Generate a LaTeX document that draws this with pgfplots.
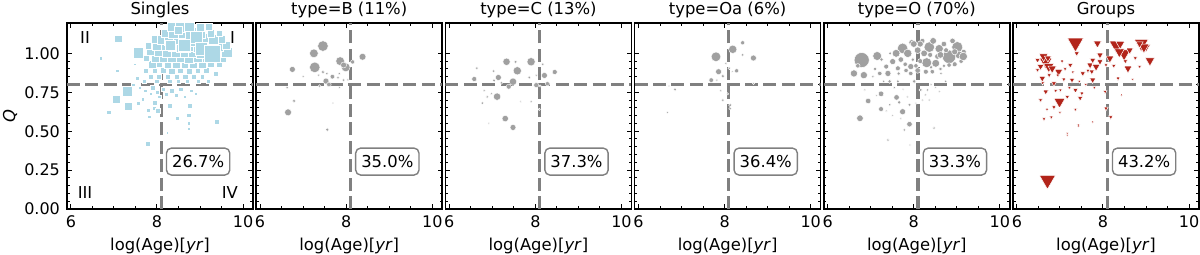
\documentclass[border=0pt]{standalone}
\usepackage{pgfplots}
\pgfplotsset{compat=1.18}
\usepackage{fontspec}
\setmainfont{DejaVu Sans}
\definecolor{sgl}{HTML}{ADD8E6}
\definecolor{dashgray}{HTML}{808080}
\definecolor{cgray}{HTML}{A0A0A0}
\definecolor{tred}{RGB}{178,36,26}
\newcommand{\fs}{\fontsize{8.2}{10}\selectfont}
\newcommand{\fst}{\fontsize{8.0}{10}\selectfont}
\tikzset{pct/.style={draw=dashgray, fill=white, rounded corners=2.5pt, line width=0.7pt, font=\fs, inner xsep=2.8pt, inner ysep=0pt, minimum height=13.5pt}}
\pgfplotsset{
  panel/.style={
    scale only axis, width=93pt, height=93pt, anchor=south west,
    xmin=5.91, xmax=10.23, ymin=0, ymax=1.195,
    xtick={6,8,10}, minor x tick num=3,
    ytick={0,0.25,0.5,0.75,1}, minor y tick num=4,
    tick align=inside, xtick pos=both, ytick pos=both,
    xticklabel pos=lower, yticklabel pos=left,
    major tick length=2.3pt, minor tick length=1.3pt,
    tick style={black, line width=0.5pt},
    axis line style={line width=0.8pt},
    tick label style={font=\fst},
    /pgf/number format/assume math mode=true,
    xticklabel style={/pgf/number format/.cd, fixed, precision=0},
    yticklabel style={/pgf/number format/.cd, fixed, fixed zerofill, precision=2},
    every axis title/.style={at={(axis description cs:0.5,1)}, anchor=base, yshift=4.5pt, font=\fs},
    every axis x label/.style={at={(axis description cs:0.5,0)}, anchor=base, yshift=-20.5pt, font=\fs},
    every axis y label/.style={at={(axis description cs:0,0.5)}, xshift=-28.5pt, rotate=90, anchor=center, font=\fs},
    xlabel={log(Age)[\textit{yr}]},
  },
  qline/.style={dashgray, line width=1.6pt, dash pattern=on 6.5pt off 2.7pt, forget plot},
  sized/.style={scatter, only marks, visualization depends on={#1*\thisrow{s}\as\ms},
    scatter/@pre marker code/.append style={/tikz/mark size=\ms}},
  sized/.default=1,
}
\begin{document}
\begin{tikzpicture}
\useasboundingbox (0,0) rectangle (600pt,127pt);
% ---------- Singles ----------
\begin{axis}[panel, at={(33.5pt,22.5pt)}, title={Singles}, ylabel={\textit{Q}}]
\addplot[scatter/use mapped color={draw=white, fill=sgl}, sized=1.4, mark=square*, mark options={line width=0.25pt}] table {
x y s
6.69 0.968 0.6
7.07 0.888 0.7
7.48 0.93 0.5
7.30 0.754 1.8
7.06 0.706 1.5
7.33 0.662 1.5
6.88 0.621 0.8
7.57 0.68 0.7
7.67 0.706 0.7
7.79 0.636 0.7
7.95 0.68 0.9
7.82 0.594 0.6
7.94 0.647 0.6
8.02 0.632 0.9
8.30 0.662 0.9
8.47 0.582 0.8
8.76 0.662 0.8
8.74 0.604 0.8
8.74 0.55 0.6
8.74 0.518 0.5
9.39 0.56 0.8
7.79 0.418 0.8
8.24 0.49 0.4
7.60 0.78 0.6
7.72 0.76 0.7
7.85 0.74 0.6
7.90 0.78 0.9
8.00 0.75 0.7
8.05 0.72 0.6
8.15 0.77 0.8
8.22 0.74 0.7
8.35 0.76 0.9
8.45 0.73 0.7
8.55 0.77 0.8
8.65 0.72 0.6
8.80 0.76 0.7
8.90 0.74 0.6
7.45 0.80 0.6
7.55 0.84 0.7
7.70 0.82 0.7
8.00 0.82 0.8
8.30 0.82 0.8
8.50 0.82 0.7
8.70 0.82 0.7
8.95 0.82 0.7
9.20 0.82 0.7
7.85 0.85 0.8
8.05 0.85 0.9
8.25 0.85 1.0
8.45 0.85 0.9
8.65 0.85 1.0
8.85 0.85 0.8
9.05 0.85 0.8
7.75 0.89 0.9
7.95 0.89 1.0
8.15 0.89 1.1
8.35 0.89 1.2
8.55 0.89 1.1
8.75 0.89 1.2
8.95 0.89 1.0
9.15 0.89 1.0
9.37 0.87 0.9
7.90 0.93 1.5
8.05 0.93 1.2
8.25 0.93 1.3
8.45 0.93 1.4
8.65 0.93 1.3
8.85 0.93 1.4
9.05 0.93 1.3
9.25 0.93 1.2
9.45 0.93 1.1
7.75 0.97 1.0
7.95 0.97 1.4
8.15 0.97 1.4
8.35 0.97 1.6
8.55 0.97 1.6
8.75 0.97 1.8
8.95 0.97 1.6
9.15 0.97 1.6
9.50 0.97 1.6
7.85 1.01 1.4
8.05 1.01 1.6
8.25 1.01 1.8
8.45 1.01 2.0
8.65 1.01 1.8
8.85 1.01 2.0
9.05 1.01 2.2
9.45 1.01 2.0
9.62 1.01 1.8
7.80 1.05 1.2
8.00 1.05 1.8
8.20 1.05 1.6
8.40 1.05 2.2
8.60 1.05 2.5
8.80 1.05 2.2
9.00 1.05 2.5
9.20 1.05 2.0
9.40 1.05 2.0
9.60 1.05 1.4
7.95 1.09 1.3
8.10 1.09 1.6
8.30 1.09 2.0
8.50 1.09 1.8
8.70 1.09 2.0
8.90 1.09 2.5
9.10 1.09 2.0
9.30 1.09 1.8
9.50 1.09 1.3
8.20 1.13 1.5
8.40 1.13 2.0
8.60 1.13 1.8
8.80 1.13 2.2
9.00 1.13 2.0
9.25 1.13 1.4
9.45 1.13 1.0
8.35 1.17 1.6
8.55 1.17 1.8
8.75 1.17 1.7
9.00 1.17 1.4
9.20 1.17 1.2
7.10 1.096 1.3
7.57 1.004 1.8
8.30 1.05 1.8
8.49 1.148 1.5
8.64 1.05 2.2
8.91 1.105 2.2
9.03 1.03 2.2
9.29 0.997 2.9
};
\addplot[qline] coordinates {(8.1,0) (8.1,1.195)};
\addplot[qline] coordinates {(5.91,0.8) (10.23,0.8)};
\node[font=\fs] at (rel axis cs:0.097,0.92) {II};
\node[font=\fs] at (rel axis cs:0.89,0.92) {I};
\node[font=\fs] at (rel axis cs:0.097,0.086) {III};
\node[font=\fs] at (rel axis cs:0.876,0.086) {IV};
\node[pct] at (rel axis cs:0.705,0.255) {26.7\%};
\end{axis}
% ---------- type=B ----------
\begin{axis}[panel, at={(128.1pt,22.5pt)}, title={type=B (11\%)}, yticklabels={}]
\addplot[scatter/use mapped color={draw=white, fill=cgray}, sized=1.15, mark=*, mark options={line width=0.2pt}] table {
x y s
7.46 1.047 2.3
7.25 1.0 1.9
7.27 0.91 2.3
6.75 0.897 1.3
7.86 0.95 1.9
7.99 0.91 1.9
7.94 0.925 1.3
8.38 0.978 1.5
8.15 0.945 0.9
7.46 0.88 0.7
7.55 0.87 0.6
7.68 0.85 1.0
7.53 0.822 1.3
7.60 0.80 1.0
7.81 0.843 0.6
7.94 0.828 0.6
7.84 0.87 0.6
7.00 0.85 0.5
7.36 0.86 0.5
7.38 0.79 0.6
6.63 0.78 0.6
6.79 0.694 0.7
6.65 0.621 1.5
7.69 0.68 0.4
7.56 0.51 0.8
7.84 0.78 0.5
8.04 0.83 0.5
};
\addplot[qline] coordinates {(8.1,0) (8.1,1.195)};
\addplot[qline] coordinates {(5.91,0.8) (10.23,0.8)};
\node[pct] at (rel axis cs:0.705,0.255) {35.0\%};
\end{axis}
% ---------- type=C ----------
\begin{axis}[panel, at={(222.7pt,22.5pt)}, title={type=C (13\%)}, yticklabels={}]
\addplot[scatter/use mapped color={draw=white, fill=cgray}, sized=1.15, mark=*, mark options={line width=0.2pt}] table {
x y s
7.33 0.946 1.6
7.90 0.946 1.8
7.54 0.946 0.7
7.58 0.888 1.8
8.17 0.93 0.6
8.21 0.858 1.3
8.45 0.88 1.1
6.64 0.905 0.6
6.58 0.835 1.1
7.03 0.886 0.6
7.14 0.845 1.3
7.04 0.826 0.7
7.48 0.818 1.6
7.38 0.786 1.1
7.21 0.81 0.6
7.86 0.845 0.7
8.02 0.86 0.5
8.02 0.796 1.1
8.28 0.805 0.9
8.11 0.79 0.5
7.11 0.722 1.6
6.98 0.74 0.5
6.88 0.72 0.6
6.81 0.76 0.5
6.77 0.68 0.6
7.90 0.69 0.5
7.66 0.69 0.4
7.30 0.581 1.4
7.48 0.524 1.3
6.92 0.55 0.4
8.09 0.64 0.5
};
\addplot[qline] coordinates {(8.1,0) (8.1,1.195)};
\addplot[qline] coordinates {(5.91,0.8) (10.23,0.8)};
\node[pct] at (rel axis cs:0.705,0.255) {37.3\%};
\end{axis}
% ---------- type=Oa ----------
\begin{axis}[panel, at={(317.3pt,22.5pt)}, title={type=Oa (6\%)}, yticklabels={}]
\addplot[scatter/use mapped color={draw=white, fill=cgray}, sized=1.15, mark=*, mark options={line width=0.2pt}] table {
x y s
7.80 0.978 2.1
8.19 1.026 1.8
8.42 1.068 0.9
8.42 0.99 0.6
8.67 0.97 1.3
7.86 0.882 1.3
7.69 0.828 1.0
7.96 0.854 0.7
7.82 0.828 0.5
8.11 0.904 0.6
8.28 0.888 0.9
8.18 0.882 0.4
6.85 0.768 0.7
6.71 0.79 0.4
7.91 0.76 0.5
7.96 0.70 0.6
8.07 0.74 0.5
8.13 0.667 0.7
8.13 0.645 0.6
6.67 0.621 0.5
8.67 0.807 0.5
8.03 0.935 0.5
};
\addplot[qline] coordinates {(8.1,0) (8.1,1.195)};
\addplot[qline] coordinates {(5.91,0.8) (10.23,0.8)};
\node[pct] at (rel axis cs:0.705,0.255) {36.4\%};
\end{axis}
% ---------- type=O ----------
\begin{axis}[panel, at={(411.9pt,22.5pt)}, title={type=O (70\%)}, yticklabels={}]
\addplot[scatter/use mapped color={draw=white, fill=cgray}, sized=1.4, mark=*, mark options={line width=0.25pt}] table {
x y s
6.79 0.957 2.7
7.15 0.983 1.6
6.61 0.871 1.3
6.84 0.86 1.3
7.74 1.032 1.9
7.86 1.0 1.5
8.09 1.02 1.2
8.36 1.04 1.9
8.59 1.03 1.5
9.01 1.04 2.0
8.82 0.978 2.4
8.30 0.94 1.8
8.51 0.936 1.4
8.24 1.0 1.2
8.09 0.89 1.0
7.59 1.0 1.4
7.51 0.947 1.1
7.36 0.915 0.9
7.21 0.871 0.8
7.40 0.871 1.1
7.63 0.904 0.9
7.82 0.89 0.8
7.93 0.915 1.1
7.93 0.871 0.8
8.28 0.882 0.9
8.43 0.882 0.8
8.82 0.925 0.8
7.44 0.82 0.7
7.63 0.82 0.6
8.01 0.82 0.7
8.16 0.765 0.6
8.32 0.765 0.5
7.24 0.74 1.0
6.94 0.694 1.0
7.60 0.717 1.0
7.66 0.685 0.7
7.24 0.642 0.9
7.74 0.625 1.1
7.90 0.67 0.6
7.90 0.545 1.0
6.75 0.583 1.2
7.44 0.67 0.5
7.36 0.63 0.4
7.70 0.583 0.4
7.78 0.508 0.5
8.47 0.52 0.5
7.40 0.443 0.5
7.91 0.411 0.4
6.86 0.765 0.4
7.13 0.73 0.4
8.27 0.733 0.4
8.59 0.755 0.4
8.74 0.82 0.5
8.63 0.871 0.5
8.36 0.70 0.4
9.16 1.01 0.9
7.95 1.07 1.0
8.45 1.08 1.2
8.70 1.06 1.0
8.95 0.93 0.9
9.10 0.95 0.8
8.55 0.98 1.0
8.15 0.95 0.9
7.98 0.96 0.7
8.70 0.92 0.7
9.05 0.99 1.4
7.05 0.85 0.5
7.30 0.82 0.5
7.55 0.78 0.5
7.75 0.77 0.4
8.40 0.80 0.4
8.50 0.78 0.4
8.20 0.70 0.4
7.85 0.72 0.4
8.05 0.68 0.4
7.50 0.60 0.4
7.70 0.96 1.0
8.00 1.06 1.2
8.20 1.08 0.9
8.62 0.99 1.2
8.90 1.08 1.0
9.15 0.98 1.5
7.25 0.96 0.7
7.45 1.00 0.6
8.15 1.06 1.1
8.38 0.99 0.9
8.75 1.02 0.9
8.95 1.01 1.1
7.65 0.87 0.7
7.80 0.93 0.8
8.05 0.92 0.8
8.40 0.91 0.7
8.62 0.90 0.7
7.10 0.90 0.7
6.70 0.92 0.8
};
\addplot[qline] coordinates {(8.1,0) (8.1,1.195)};
\addplot[qline] coordinates {(5.91,0.8) (10.23,0.8)};
\node[pct] at (rel axis cs:0.705,0.255) {33.3\%};
\end{axis}
% ---------- Groups ----------
\begin{axis}[panel, at={(506.5pt,22.5pt)}, title={Groups}, yticklabels={}]
\addplot[scatter/use mapped color={draw=white, fill=tred}, sized=1.35, mark=triangle*, mark options={line width=0.25pt, rotate=180}] table {
x y s
7.36 1.068 3.4
7.87 1.064 1.7
8.31 1.053 3.0
8.89 1.064 3.0
8.49 0.999 2.7
8.38 1.01 2.2
9.00 1.04 1.8
9.09 0.953 2.0
8.58 0.903 1.7
8.16 0.968 1.7
6.67 0.946 2.7
6.74 0.915 2.2
6.82 0.903 1.8
6.55 0.915 1.4
6.97 0.882 1.7
6.59 0.84 1.4
6.99 0.69 2.4
6.67 0.754 1.2
6.86 0.807 1.1
7.24 0.925 1.1
7.39 1.0 1.1
7.53 0.871 1.1
7.70 0.925 1.4
7.76 0.957 1.3
7.84 0.915 1.7
7.93 0.99 1.4
7.93 0.947 1.3
7.74 0.882 1.1
7.76 0.829 1.3
7.28 0.829 1.1
7.09 0.833 0.9
7.36 0.764 1.1
7.47 0.713 1.1
7.51 0.743 0.9
7.17 0.72 0.9
6.55 0.70 0.9
6.86 0.654 0.9
7.36 0.64 0.8
6.63 0.579 0.8
6.80 0.59 0.8
7.43 0.54 0.7
7.76 0.56 0.6
8.05 0.754 0.8
8.07 0.646 0.9
8.18 0.59 0.9
8.35 0.84 0.9
8.43 0.733 0.6
8.69 0.833 0.6
8.85 0.915 0.8
8.07 0.925 0.8
7.17 0.486 0.5
6.48 0.893 0.9
6.48 0.957 1.1
7.01 0.764 0.8
7.22 0.78 0.8
7.17 0.475 0.6
7.43 0.533 0.6
6.62 0.98 1.9
6.72 0.97 1.5
8.40 1.06 1.9
8.62 1.02 1.5
8.95 1.04 2.2
8.85 1.06 1.5
6.60 0.81 0.8
6.95 0.86 0.8
7.60 0.80 0.7
7.05 0.95 0.8
6.75 0.86 0.9
7.12 0.90 0.8
7.45 0.82 0.7
7.65 0.89 0.9
8.25 0.92 0.9
8.52 0.95 1.0
8.75 0.97 0.9
6.90 0.76 0.8
7.30 0.88 0.7
7.80 0.78 0.7
6.70 0.64 0.7
7.00 0.62 0.6
6.71 0.186 3.4
};
\addplot[qline] coordinates {(8.1,0) (8.1,1.195)};
\addplot[qline] coordinates {(5.91,0.8) (10.23,0.8)};
\node[pct] at (rel axis cs:0.705,0.255) {43.2\%};
\end{axis}
\end{tikzpicture}
\end{document}
